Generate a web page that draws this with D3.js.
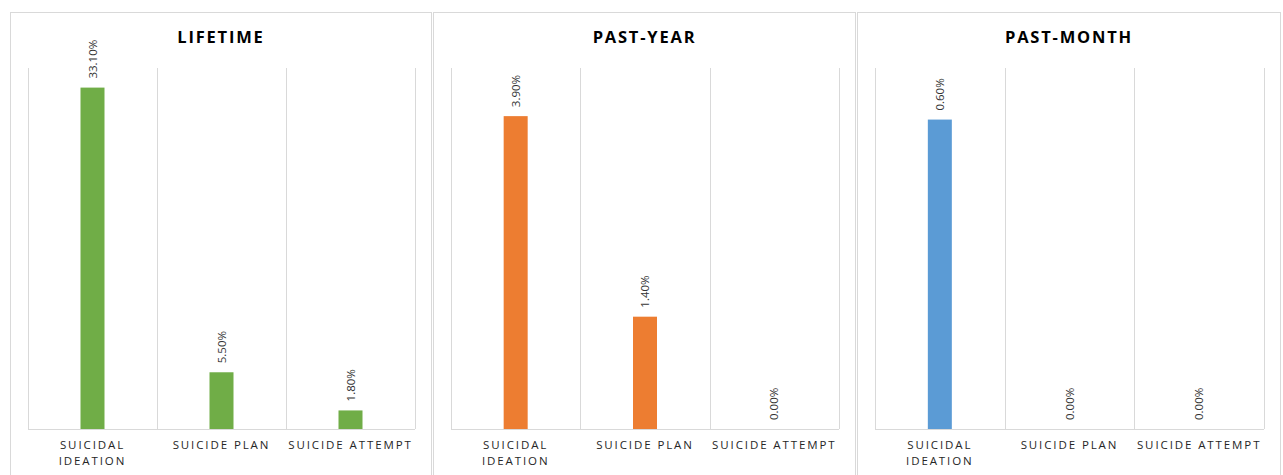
<!DOCTYPE html>
<html lang="en">
<head>
<meta charset="UTF-8">
<title>Suicidal behaviour prevalence</title>
<style>
  body { margin: 0; background: #fff; }
  svg { display: block; font-family: "Open Sans", "Noto Sans", sans-serif; }
</style>
</head>
<body>
<div id="chart"></div>
<script src="https://cdn.jsdelivr.net/npm/d3@7/dist/d3.min.js"></script>
<script>
  // data
  const categories = ["Suicidal Ideation", "Suicide Plan", "Suicide Attempt"];
  const panelTitles = ["LIFETIME", "PAST-YEAR", "PAST-MONTH"];
  const lifetime = [33.1, 5.5, 1.8];
  const pastYear = [3.9, 1.4, 0.0];
  const pastMonth = [0.6, 0.0, 0.0];
  const axisMax = [35, 4.5, 0.7];
  const colors = ["#70ad47", "#ed7d31", "#5b9bd5"];

  const series = [lifetime, pastYear, pastMonth];
  const W = 1283, H = 475;

  const svg = d3.select("#chart").append("svg")
    .attr("width", W).attr("height", H);

  // panel frames
  const frames = [[10, 432], [433, 856], [857, 1281]];
  const plotTop = 68, plotBottom = 429;

  frames.forEach((fr, i) => {
    const g = svg.append("g");

    g.append("rect")
      .attr("x", fr[0] + 0.5).attr("y", 12.5)
      .attr("width", fr[1] - fr[0] - 1).attr("height", H)
      .attr("fill", "#fff").attr("stroke", "#d9d9d9");

    g.append("text")
      .attr("x", (fr[0] + fr[1]) / 2).attr("y", 43)
      .attr("text-anchor", "middle")
      .attr("font-size", 16.5).attr("font-weight", 700)
      .attr("letter-spacing", 1.8)
      .attr("fill", "#000")
      .text(panelTitles[i]);

    const x = d3.scaleBand()
      .domain(categories)
      .range([fr[0] + 18, fr[1] - 17]);

    const y = d3.scaleLinear()
      .domain([0, axisMax[i]])
      .range([plotBottom, plotTop]);

    // vertical gridlines at band edges
    const edges = categories.map(c => x(c)).concat([x.range()[1]]);
    g.selectAll("line.grid").data(edges).join("line")
      .attr("class", "grid")
      .attr("x1", d => Math.round(d) + 0.5).attr("x2", d => Math.round(d) + 0.5)
      .attr("y1", plotTop).attr("y2", plotBottom)
      .attr("stroke", "#d9d9d9");

    g.append("line")
      .attr("x1", x.range()[0]).attr("x2", x.range()[1])
      .attr("y1", plotBottom + 0.5).attr("y2", plotBottom + 0.5)
      .attr("stroke", "#d9d9d9");

    const barW = 24;
    const vals = series[i].map((v, k) => ({ cat: categories[k], v }));

    g.selectAll("rect.bar").data(vals).join("rect")
      .attr("class", "bar")
      .attr("x", d => x(d.cat) + x.bandwidth() / 2 - barW / 2)
      .attr("y", d => y(d.v))
      .attr("width", barW)
      .attr("height", d => plotBottom - y(d.v))
      .attr("fill", colors[i]);

    // rotated value labels
    g.selectAll("text.val").data(vals).join("text")
      .attr("class", "val")
      .attr("transform", d => `translate(${x(d.cat) + x.bandwidth() / 2 + 4},${y(d.v) - 9}) rotate(-90)`)
      .attr("font-size", 11.5)
      .attr("fill", "#333")
      .text(d => d.v.toFixed(2) + "%");

    // category labels, wrapped like the original
    g.selectAll("text.cat").data(categories).join("text")
      .attr("class", "cat")
      .attr("text-anchor", "middle")
      .attr("font-size", 11.5)
      .attr("letter-spacing", 1.9)
      .attr("fill", "#262626")
      .each(function (c) {
        const t = d3.select(this);
        const lines = c === "Suicidal Ideation" ? ["SUICIDAL", "IDEATION"] : [c.toUpperCase()];
        lines.forEach((ln, k) => {
          t.append("tspan")
            .attr("x", x(c) + x.bandwidth() / 2)
            .attr("y", plotBottom + 20 + k * 16)
            .text(ln);
        });
      });
  });
</script>
</body>
</html>
